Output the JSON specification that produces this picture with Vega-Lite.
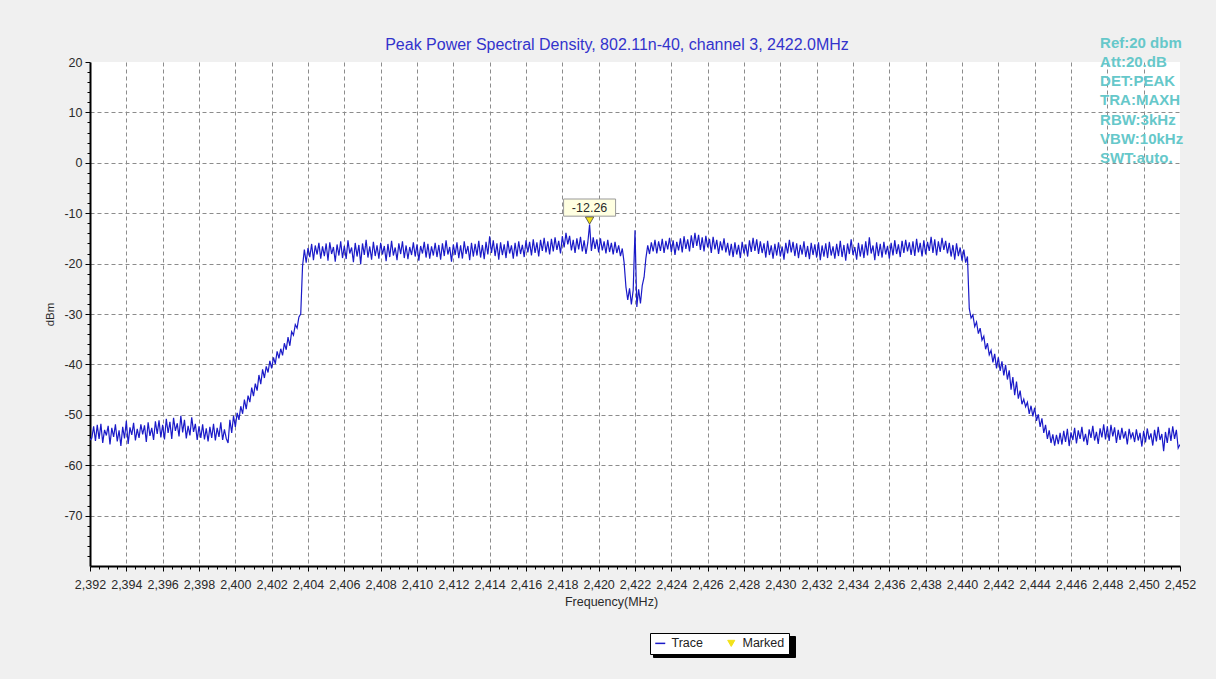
{
  "$schema": "https://vega.github.io/schema/vega-lite/v6.json",
  "autosize": {"type": "none"},
  "width": 1090,
  "height": 504,
  "padding": {"left": 90, "top": 62, "right": 36, "bottom": 113},
  "background": "#f0f0f0",
  "config": {"font": "Liberation Sans", "view": {"stroke": null, "fill": "white"}},
  "title": {"text": "Peak Power Spectral Density, 802.11n-40, channel 3, 2422.0MHz", "color": "#3333cc", "fontSize": 16, "fontWeight": "normal", "font": "Liberation Sans", "anchor": "middle", "frame": "group", "baseline": "alphabetic", "offset": -30, "dx": -18},
  "layer": [
    {
      "data": {
        "values": "f,p\n2392,-55.0\n2392.1,-54.6\n2392.2,-52.3\n2392.3,-55.2\n2392.4,-52.0\n2392.5,-54.8\n2392.6,-51.8\n2392.7,-55.6\n2392.8,-53.0\n2392.9,-54.1\n2393,-52.2\n2393.1,-55.9\n2393.2,-52.6\n2393.3,-54.4\n2393.4,-51.9\n2393.5,-55.3\n2393.6,-53.1\n2393.7,-56.2\n2393.8,-52.4\n2393.9,-54.7\n2394,-51.2\n2394.1,-55.8\n2394.2,-52.5\n2394.3,-54.0\n2394.4,-51.6\n2394.5,-55.1\n2394.6,-52.8\n2394.7,-54.6\n2394.8,-51.9\n2394.9,-53.9\n2395,-52.1\n2395.1,-55.4\n2395.2,-51.5\n2395.3,-54.2\n2395.4,-52.6\n2395.5,-55.0\n2395.6,-51.3\n2395.7,-53.8\n2395.8,-51.1\n2395.9,-54.5\n2396,-52.0\n2396.1,-54.9\n2396.2,-50.8\n2396.3,-53.6\n2396.4,-51.4\n2396.5,-54.8\n2396.6,-50.6\n2396.7,-53.2\n2396.8,-51.7\n2396.9,-54.3\n2397,-50.2\n2397.1,-53.5\n2397.2,-51.0\n2397.3,-54.7\n2397.4,-52.2\n2397.5,-54.1\n2397.6,-50.5\n2397.7,-53.4\n2397.8,-51.8\n2397.9,-55.0\n2398,-52.3\n2398.1,-54.6\n2398.2,-51.9\n2398.3,-54.9\n2398.4,-52.7\n2398.5,-55.3\n2398.6,-52.4\n2398.7,-54.6\n2398.8,-51.8\n2398.9,-55.1\n2399,-52.6\n2399.1,-54.4\n2399.2,-51.5\n2399.3,-55.0\n2399.4,-52.9\n2399.5,-54.7\n2399.6,-55.6\n2399.7,-51.0\n2399.8,-53.6\n2399.9,-50.2\n2400,-52.4\n2400.1,-49.6\n2400.2,-51.0\n2400.3,-48.3\n2400.4,-49.8\n2400.5,-47.0\n2400.6,-48.9\n2400.7,-46.2\n2400.8,-47.5\n2400.9,-44.6\n2401,-46.3\n2401.1,-43.8\n2401.2,-45.2\n2401.3,-42.1\n2401.4,-43.9\n2401.5,-41.0\n2401.6,-42.7\n2401.7,-40.4\n2401.8,-41.6\n2401.9,-39.3\n2402,-40.8\n2402.1,-38.6\n2402.2,-39.9\n2402.3,-37.4\n2402.4,-38.8\n2402.5,-36.9\n2402.6,-38.2\n2402.7,-35.8\n2402.8,-37.1\n2402.9,-34.6\n2403,-36.3\n2403.1,-33.5\n2403.2,-34.2\n2403.3,-32.1\n2403.4,-32.8\n2403.5,-30.6\n2403.6,-30.0\n2403.7,-20.5\n2403.8,-17.2\n2403.9,-19.8\n2404,-16.9\n2404.1,-18.7\n2404.2,-16.1\n2404.3,-19.3\n2404.4,-16.4\n2404.5,-18.2\n2404.6,-15.9\n2404.7,-19.0\n2404.8,-16.6\n2404.9,-18.5\n2405,-16.0\n2405.1,-19.4\n2405.2,-15.8\n2405.3,-18.1\n2405.4,-16.7\n2405.5,-19.6\n2405.6,-16.2\n2405.7,-18.4\n2405.8,-15.6\n2405.9,-18.9\n2406,-16.5\n2406.1,-19.1\n2406.2,-15.4\n2406.3,-18.0\n2406.4,-16.8\n2406.5,-19.7\n2406.6,-15.9\n2406.7,-18.6\n2406.8,-16.3\n2406.9,-20.1\n2407,-16.0\n2407.1,-18.3\n2407.2,-15.3\n2407.3,-18.8\n2407.4,-16.6\n2407.5,-19.2\n2407.6,-15.7\n2407.7,-18.5\n2407.8,-16.4\n2407.9,-19.0\n2408,-15.9\n2408.1,-18.2\n2408.2,-16.5\n2408.3,-19.5\n2408.4,-16.1\n2408.5,-18.7\n2408.6,-15.5\n2408.7,-18.4\n2408.8,-16.8\n2408.9,-19.3\n2409,-16.0\n2409.1,-18.1\n2409.2,-15.6\n2409.3,-18.9\n2409.4,-16.4\n2409.5,-19.1\n2409.6,-16.7\n2409.7,-18.3\n2409.8,-15.8\n2409.9,-18.6\n2410,-16.2\n2410.1,-19.4\n2410.2,-16.5\n2410.3,-18.0\n2410.4,-15.7\n2410.5,-18.8\n2410.6,-16.1\n2410.7,-19.0\n2410.8,-16.6\n2410.9,-18.4\n2411,-15.9\n2411.1,-18.7\n2411.2,-16.3\n2411.3,-19.2\n2411.4,-16.0\n2411.5,-18.5\n2411.6,-15.4\n2411.7,-18.2\n2411.8,-16.7\n2411.9,-19.6\n2412,-16.2\n2412.1,-18.3\n2412.2,-15.8\n2412.3,-18.9\n2412.4,-16.4\n2412.5,-19.0\n2412.6,-15.6\n2412.7,-18.1\n2412.8,-16.5\n2412.9,-19.3\n2413,-15.9\n2413.1,-18.6\n2413.2,-16.1\n2413.3,-18.4\n2413.4,-15.5\n2413.5,-18.8\n2413.6,-16.3\n2413.7,-19.1\n2413.8,-15.7\n2413.9,-18.2\n2414,-14.6\n2414.1,-17.9\n2414.2,-15.4\n2414.3,-18.5\n2414.4,-16.0\n2414.5,-19.2\n2414.6,-15.8\n2414.7,-18.3\n2414.8,-16.2\n2414.9,-18.9\n2415,-15.5\n2415.1,-18.0\n2415.2,-16.4\n2415.3,-19.0\n2415.4,-15.9\n2415.5,-18.6\n2415.6,-15.6\n2415.7,-18.1\n2415.8,-16.3\n2415.9,-18.7\n2416,-15.4\n2416.1,-17.8\n2416.2,-15.7\n2416.3,-18.4\n2416.4,-15.2\n2416.5,-17.9\n2416.6,-15.8\n2416.7,-18.6\n2416.8,-15.3\n2416.9,-17.5\n2417,-14.9\n2417.1,-17.8\n2417.2,-15.6\n2417.3,-18.2\n2417.4,-15.1\n2417.5,-17.6\n2417.6,-14.8\n2417.7,-17.3\n2417.8,-15.5\n2417.9,-18.0\n2418,-14.6\n2418.1,-16.8\n2418.2,-13.9\n2418.3,-16.2\n2418.4,-14.5\n2418.5,-17.4\n2418.6,-15.3\n2418.7,-17.9\n2418.8,-15.0\n2418.9,-17.2\n2419,-14.7\n2419.1,-17.6\n2419.2,-15.4\n2419.3,-18.1\n2419.4,-15.9\n2419.5,-12.26\n2419.6,-17.5\n2419.7,-14.8\n2419.8,-17.1\n2419.9,-15.2\n2420,-17.8\n2420.1,-15.0\n2420.2,-17.4\n2420.3,-15.6\n2420.4,-18.0\n2420.5,-15.3\n2420.6,-17.7\n2420.7,-15.9\n2420.8,-18.2\n2420.9,-15.7\n2421,-17.9\n2421.1,-16.4\n2421.2,-18.5\n2421.3,-17.0\n2421.4,-19.8\n2421.5,-24.6\n2421.6,-27.2\n2421.7,-24.9\n2421.8,-28.1\n2421.9,-25.3\n2422,-13.4\n2422.1,-28.6\n2422.2,-25.1\n2422.3,-27.9\n2422.4,-24.3\n2422.5,-22.7\n2422.6,-18.9\n2422.7,-16.4\n2422.8,-18.1\n2422.9,-15.8\n2423,-17.6\n2423.1,-15.3\n2423.2,-18.0\n2423.3,-15.6\n2423.4,-17.5\n2423.5,-15.1\n2423.6,-17.9\n2423.7,-15.5\n2423.8,-17.2\n2423.9,-14.9\n2424,-17.7\n2424.1,-15.4\n2424.2,-18.3\n2424.3,-15.7\n2424.4,-17.4\n2424.5,-15.0\n2424.6,-17.8\n2424.7,-14.6\n2424.8,-17.1\n2424.9,-15.2\n2425,-17.6\n2425.1,-14.4\n2425.2,-16.9\n2425.3,-13.9\n2425.4,-16.5\n2425.5,-14.3\n2425.6,-17.3\n2425.7,-14.8\n2425.8,-17.6\n2425.9,-14.5\n2426,-16.8\n2426.1,-15.1\n2426.2,-17.9\n2426.3,-14.7\n2426.4,-17.2\n2426.5,-15.3\n2426.6,-18.1\n2426.7,-15.6\n2426.8,-17.4\n2426.9,-15.0\n2427,-17.8\n2427.1,-15.9\n2427.2,-18.4\n2427.3,-16.1\n2427.4,-18.7\n2427.5,-15.8\n2427.6,-18.2\n2427.7,-16.3\n2427.8,-18.9\n2427.9,-15.7\n2428,-18.0\n2428.1,-16.2\n2428.2,-18.6\n2428.3,-15.4\n2428.4,-17.7\n2428.5,-14.9\n2428.6,-17.5\n2428.7,-15.2\n2428.8,-18.1\n2428.9,-15.6\n2429,-17.9\n2429.1,-16.0\n2429.2,-18.8\n2429.3,-15.5\n2429.4,-18.3\n2429.5,-16.4\n2429.6,-19.0\n2429.7,-16.1\n2429.8,-18.4\n2429.9,-15.8\n2430,-18.6\n2430.1,-16.6\n2430.2,-19.2\n2430.3,-15.9\n2430.4,-18.0\n2430.5,-15.3\n2430.6,-17.8\n2430.7,-15.7\n2430.8,-18.5\n2430.9,-16.0\n2431,-18.9\n2431.1,-16.3\n2431.2,-18.2\n2431.3,-15.6\n2431.4,-18.7\n2431.5,-16.5\n2431.6,-19.1\n2431.7,-15.9\n2431.8,-18.3\n2431.9,-16.2\n2432,-18.8\n2432.1,-15.8\n2432.2,-19.3\n2432.3,-16.4\n2432.4,-18.6\n2432.5,-16.0\n2432.6,-18.9\n2432.7,-15.7\n2432.8,-18.4\n2432.9,-16.6\n2433,-19.0\n2433.1,-16.1\n2433.2,-18.5\n2433.3,-15.5\n2433.4,-18.7\n2433.5,-16.3\n2433.6,-19.4\n2433.7,-16.0\n2433.8,-18.1\n2433.9,-15.2\n2434,-18.3\n2434.1,-16.7\n2434.2,-19.2\n2434.3,-15.9\n2434.4,-18.6\n2434.5,-16.2\n2434.6,-18.9\n2434.7,-15.6\n2434.8,-18.4\n2434.9,-14.8\n2435,-18.0\n2435.1,-16.4\n2435.2,-19.3\n2435.3,-15.8\n2435.4,-18.5\n2435.5,-16.1\n2435.6,-18.8\n2435.7,-15.7\n2435.8,-18.2\n2435.9,-16.5\n2436,-19.0\n2436.1,-15.9\n2436.2,-18.4\n2436.3,-15.4\n2436.4,-18.1\n2436.5,-16.2\n2436.6,-18.7\n2436.7,-15.5\n2436.8,-17.9\n2436.9,-15.3\n2437,-17.6\n2437.1,-15.8\n2437.2,-18.3\n2437.3,-15.6\n2437.4,-18.5\n2437.5,-15.1\n2437.6,-17.8\n2437.7,-15.9\n2437.8,-18.6\n2437.9,-15.4\n2438,-18.2\n2438.1,-15.7\n2438.2,-17.5\n2438.3,-14.7\n2438.4,-17.9\n2438.5,-15.2\n2438.6,-18.4\n2438.7,-15.6\n2438.8,-17.7\n2438.9,-14.9\n2439,-17.3\n2439.1,-15.5\n2439.2,-18.0\n2439.3,-15.9\n2439.4,-18.6\n2439.5,-16.3\n2439.6,-19.2\n2439.7,-16.0\n2439.8,-18.5\n2439.9,-16.8\n2440,-19.4\n2440.1,-17.2\n2440.2,-19.8\n2440.3,-18.6\n2440.4,-28.9\n2440.5,-30.8\n2440.6,-30.2\n2440.7,-32.5\n2440.8,-31.6\n2440.9,-33.9\n2441,-32.8\n2441.1,-35.2\n2441.2,-34.4\n2441.3,-37.0\n2441.4,-35.8\n2441.5,-38.1\n2441.6,-37.2\n2441.7,-39.6\n2441.8,-37.9\n2441.9,-40.8\n2442,-38.6\n2442.1,-41.3\n2442.2,-39.4\n2442.3,-42.2\n2442.4,-40.1\n2442.5,-43.0\n2442.6,-41.2\n2442.7,-45.0\n2442.8,-42.5\n2442.9,-46.1\n2443,-43.4\n2443.1,-46.8\n2443.2,-45.2\n2443.3,-47.9\n2443.4,-46.9\n2443.5,-48.4\n2443.6,-47.5\n2443.7,-49.8\n2443.8,-48.2\n2443.9,-50.3\n2444,-48.6\n2444.1,-51.2\n2444.2,-49.9\n2444.3,-52.4\n2444.4,-50.7\n2444.5,-53.6\n2444.6,-52.0\n2444.7,-54.8\n2444.8,-53.1\n2444.9,-55.6\n2445,-53.9\n2445.1,-56.1\n2445.2,-54.0\n2445.3,-55.8\n2445.4,-53.6\n2445.5,-55.9\n2445.6,-53.2\n2445.7,-55.4\n2445.8,-52.8\n2445.9,-56.2\n2446,-53.5\n2446.1,-55.0\n2446.2,-52.6\n2446.3,-55.7\n2446.4,-53.1\n2446.5,-54.8\n2446.6,-52.4\n2446.7,-55.3\n2446.8,-53.8\n2446.9,-56.0\n2447,-52.9\n2447.1,-54.6\n2447.2,-52.2\n2447.3,-55.1\n2447.4,-53.4\n2447.5,-55.8\n2447.6,-52.7\n2447.7,-54.5\n2447.8,-51.9\n2447.9,-54.9\n2448,-52.3\n2448.1,-55.2\n2448.2,-52.0\n2448.3,-54.3\n2448.4,-52.5\n2448.5,-55.6\n2448.6,-53.0\n2448.7,-55.0\n2448.8,-52.6\n2448.9,-54.7\n2449,-53.3\n2449.1,-55.9\n2449.2,-52.8\n2449.3,-54.6\n2449.4,-53.5\n2449.5,-55.4\n2449.6,-52.9\n2449.7,-55.1\n2449.8,-53.6\n2449.9,-56.3\n2450,-53.2\n2450.1,-55.5\n2450.2,-52.7\n2450.3,-54.9\n2450.4,-53.7\n2450.5,-56.1\n2450.6,-53.0\n2450.7,-55.3\n2450.8,-52.4\n2450.9,-55.0\n2451,-53.8\n2451.1,-57.2\n2451.2,-53.4\n2451.3,-55.6\n2451.4,-52.6\n2451.5,-55.2\n2451.6,-52.3\n2451.7,-54.8\n2451.8,-53.0\n2451.9,-56.6\n2452,-55.9",
        "format": {"type": "csv", "parse": {"f": "number", "p": "number"}}
      },
      "mark": {"type": "line", "strokeWidth": 1.2, "clip": true},
      "encoding": {
        "x": {"field": "f", "type": "quantitative",
          "scale": {"domain": [2392, 2452], "nice": false, "zero": false},
          "axis": {
            "values": [2392,2392.5,2393,2393.5,2394,2394.5,2395,2395.5,2396,2396.5,2397,2397.5,2398,2398.5,2399,2399.5,2400,2400.5,2401,2401.5,2402,2402.5,2403,2403.5,2404,2404.5,2405,2405.5,2406,2406.5,2407,2407.5,2408,2408.5,2409,2409.5,2410,2410.5,2411,2411.5,2412,2412.5,2413,2413.5,2414,2414.5,2415,2415.5,2416,2416.5,2417,2417.5,2418,2418.5,2419,2419.5,2420,2420.5,2421,2421.5,2422,2422.5,2423,2423.5,2424,2424.5,2425,2425.5,2426,2426.5,2427,2427.5,2428,2428.5,2429,2429.5,2430,2430.5,2431,2431.5,2432,2432.5,2433,2433.5,2434,2434.5,2435,2435.5,2436,2436.5,2437,2437.5,2438,2438.5,2439,2439.5,2440,2440.5,2441,2441.5,2442,2442.5,2443,2443.5,2444,2444.5,2445,2445.5,2446,2446.5,2447,2447.5,2448,2448.5,2449,2449.5,2450,2450.5,2451,2451.5,2452],
            "tickCount": 500,
            "labelExpr": "datum.value % 2 === 0 ? format(datum.value, ',') : ''",
            "labelOverlap": false, "labelFlush": false, "labelBound": false,
            "labelFontSize": 12.5, "labelColor": "#2a2a2a", "labelPadding": 7,
            "tickColor": "black",
            "tickSize": {"condition": {"test": "datum.value % 2 === 0", "value": 5}, "value": 3},
            "domainColor": "black", "domainWidth": 2,
            "grid": true, "gridColor": "#8c8c8c", "gridDash": [4, 3], "gridWidth": 1,
            "gridOpacity": {"condition": {"test": "datum.value % 2 === 0 && datum.value > 2392 && datum.value < 2452", "value": 1}, "value": 0},
            "title": "Frequency(MHz)", "titleFontSize": 12.5, "titleFontWeight": "normal", "titleColor": "#2a2a2a", "titlePadding": 5, "titleX": 521
          }
        },
        "y": {"field": "p", "type": "quantitative",
          "scale": {"domain": [-80, 20], "nice": false, "zero": false},
          "axis": {
            "values": [-78,-76,-74,-72,-70,-68,-66,-64,-62,-60,-58,-56,-54,-52,-50,-48,-46,-44,-42,-40,-38,-36,-34,-32,-30,-28,-26,-24,-22,-20,-18,-16,-14,-12,-10,-8,-6,-4,-2,0,2,4,6,8,10,12,14,16,18,20],
            "tickCount": 500,
            "labelExpr": "datum.value % 10 === 0 ? '' + datum.value : ''",
            "labelOverlap": false, "labelFlush": false, "labelBound": false,
            "labelFontSize": 12.5, "labelColor": "#2a2a2a", "labelPadding": 3,
            "tickColor": "black",
            "tickSize": {"condition": {"test": "datum.value % 10 === 0", "value": 5}, "value": 3},
            "domainColor": "black", "domainWidth": 2,
            "grid": true, "gridColor": "#8c8c8c", "gridDash": [4, 3], "gridWidth": 1,
            "gridOpacity": {"condition": {"test": "datum.value % 10 === 0 && datum.value < 20", "value": 1}, "value": 0},
            "title": "dBm", "titleFontSize": 11.5, "titleFontWeight": "normal", "titleColor": "#2a2a2a", "titlePadding": 8
          }
        },
        "color": {"datum": "Trace",
          "scale": {"domain": ["Trace", "Marked"], "range": ["#1a1ac8", "#f2e21a"]},
          "legend": {
            "orient": "none", "legendX": 560, "legendY": 571, "direction": "horizontal", "title": null, "zindex": 2,
            "fillColor": "white", "strokeColor": "black", "padding": 4, "cornerRadius": 0,
            "labelFontSize": 12.5, "labelColor": "#222", "labelFont": "Liberation Sans", "labelOffset": 5,
            "columnPadding": 22, "symbolSize": 100, "symbolStrokeWidth": 1.5,
            "encode": {"symbols": {"update": {
              "shape": {"signal": "datum.value === 'Trace' ? 'stroke' : 'triangle-down'"},
              "fill": {"signal": "datum.value === 'Trace' ? 'transparent' : '#f2e21a'"},
              "stroke": {"signal": "datum.value === 'Trace' ? '#1a1ac8' : '#333333'"},
              "strokeWidth": {"signal": "datum.value === 'Trace' ? 1.5 : 1"},
              "size": {"signal": "datum.value === 'Trace' ? 100 : 50"},
              "opacity": {"value": 1}
            }}}
          }
        },
        "strokeDash": {"datum": "t", "type": "nominal",
          "scale": {"domain": ["t", "m"], "range": [[1, 0], [1, 0]]},
          "legend": {
            "orient": "none", "legendX": 563, "legendY": 574, "direction": "horizontal", "title": null, "zindex": 1,
            "fillColor": "black", "strokeColor": "black", "padding": 4, "cornerRadius": 0,
            "labelExpr": "datum.value === 't' ? '\u00a0\u00a0\u00a0\u00a0\u00a0\u00a0\u00a0\u00a0\u00a0' : '\u00a0\u00a0\u00a0\u00a0\u00a0\u00a0\u00a0\u00a0\u00a0\u00a0\u00a0\u00a0'",
            "labelFontSize": 12.5, "labelColor": "black", "labelOpacity": 0, "labelFont": "Liberation Sans", "labelOffset": 42,
            "columnPadding": 22, "symbolSize": 100, "symbolStrokeWidth": 1.5, "symbolStrokeColor": "black"
          }
        }
      }
    },
    {
      "data": {"name": "marker", "values": [{"f": 2419.5, "p": -12.26, "label": "-12.26"}]},
      "mark": {"type": "point", "shape": "M-1,-0.33L1,-0.33L1,0.33L-1,0.33Z", "size": 2704, "filled": true, "fill": "#ffffe1", "stroke": "#999999", "strokeWidth": 1, "opacity": 1, "yOffset": -17},
      "encoding": {"x": {"field": "f", "type": "quantitative"}, "y": {"field": "p", "type": "quantitative"}}
    },
    {
      "data": {"name": "marker"},
      "mark": {"type": "text", "fontSize": 12.5, "color": "#2a2a2a", "baseline": "middle", "align": "center", "yOffset": -17},
      "encoding": {"x": {"field": "f", "type": "quantitative"}, "y": {"field": "p", "type": "quantitative"}, "text": {"field": "label"}}
    },
    {
      "data": {"name": "marker"},
      "mark": {"type": "point", "shape": "triangle-down", "size": 70, "filled": true, "stroke": "#444444", "strokeWidth": 0.8, "opacity": 1, "yOffset": -4},
      "encoding": {"x": {"field": "f", "type": "quantitative"}, "y": {"field": "p", "type": "quantitative"}, "color": {"datum": "Marked"}}
    },
    {
      "data": {"values": [{"f": 2447.6, "p": 22.86}]},
      "mark": {"type": "text", "align": "left", "baseline": "alphabetic", "fontSize": 15, "fontWeight": "bold", "lineHeight": 19.3, "color": "#66c8ca", "clip": false},
      "encoding": {
        "x": {"field": "f", "type": "quantitative"},
        "y": {"field": "p", "type": "quantitative"},
        "text": {"value": ["Ref:20 dbm", "Att:20.dB", "DET:PEAK", "TRA:MAXH", "RBW:3kHz", "VBW:10kHz", "SWT:auto."]}
      }
    }
  ]
}
